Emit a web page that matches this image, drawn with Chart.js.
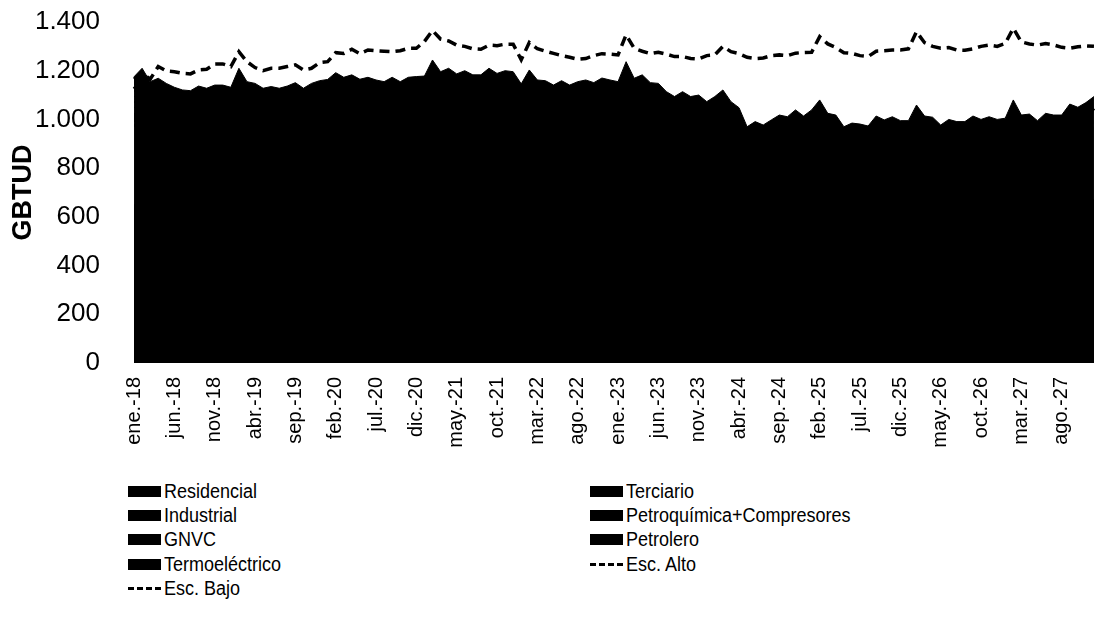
<!DOCTYPE html>
<html lang="es">
<head>
<meta charset="UTF-8">
<title>Demanda de gas natural por sector - GBTUD</title>
<script src="https://cdn.jsdelivr.net/npm/chart.js"></script>
<style>
    body {
        margin: 0;
        background: #fff;
        font-family: 'Liberation Sans', Arial, sans-serif;
    }
    .wrap {
        position: relative;
        width: 1101px;
        height: 625px;
        overflow: hidden;
    }
    #demanda {
        position: absolute;
        left: 0;
        top: 0;
    }
    /* legend below the plot, two columns */
    .legend {
        position: absolute;
        left: 128px;
        top: 479px;
        display: grid;
        grid-template-columns: 462px 400px;
        grid-auto-rows: 24.3px;
        font-family: 'Liberation Sans', Arial, sans-serif;
        font-size: 20px;
        color: #000;
    }
    .legend .item {
        display: flex;
        align-items: center;
        white-space: nowrap;
    }
    .legend .txt {
        display: inline-block;
        transform: scaleX(0.9);
        transform-origin: left center;
    }
    .legend .sw {
        width: 33px;
        height: 11px;
        background: #000;
        margin-right: 3px;
    }
    .legend .sw.dash {
        height: 3px;
        background: repeating-linear-gradient(to right, #000 0 6px, transparent 6px 9px);
    }
</style>
</head>
<body>
<div class="wrap">
    <canvas id="demanda" width="1101" height="460"></canvas>
    <div class="legend" id="legend"></div>
</div>

<script>
    // categories
    const years = ['18', '19', '20', '21', '22', '23', '24', '25', '26', '27'];
    const monthAbbr = ['ene.', 'feb.', 'mar.', 'abr.', 'may.', 'jun.', 'jul.', 'ago.', 'sep.', 'oct.', 'nov.', 'dic.'];
    const yTicks = [0, 200, 400, 600, 800, 1000, 1200, 1400];

    // GBTUD by sector, ene.-18 .. dic.-27 (one row per year)
    const residencial = [
        170, 170, 170, 170, 170, 170, 170, 170, 170, 170, 170, 170,
        172, 172, 172, 172, 172, 172, 172, 172, 172, 172, 172, 172,
        175, 175, 175, 175, 175, 175, 175, 175, 175, 175, 175, 175,
        178, 178, 178, 178, 178, 178, 178, 178, 178, 178, 178, 178,
        180, 180, 180, 180, 180, 180, 180, 180, 180, 180, 180, 180,
        183, 183, 183, 183, 183, 183, 183, 183, 183, 183, 183, 183,
        186, 186, 186, 186, 186, 186, 186, 186, 186, 186, 186, 186,
        189, 189, 189, 189, 189, 189, 189, 189, 189, 189, 189, 189,
        192, 192, 192, 192, 192, 192, 192, 192, 192, 192, 192, 192,
        195, 195, 195, 195, 195, 195, 195, 195, 195, 195, 195, 195
    ];
    const terciario = [
        35, 35, 35, 35, 35, 35, 35, 35, 35, 35, 35, 35,
        36, 36, 36, 36, 36, 36, 36, 36, 36, 36, 36, 36,
        36, 36, 36, 36, 36, 36, 36, 36, 36, 36, 36, 36,
        37, 37, 37, 37, 37, 37, 37, 37, 37, 37, 37, 37,
        38, 38, 38, 38, 38, 38, 38, 38, 38, 38, 38, 38,
        38, 38, 38, 38, 38, 38, 38, 38, 38, 38, 38, 38,
        39, 39, 39, 39, 39, 39, 39, 39, 39, 39, 39, 39,
        40, 40, 40, 40, 40, 40, 40, 40, 40, 40, 40, 40,
        40, 40, 40, 40, 40, 40, 40, 40, 40, 40, 40, 40,
        41, 41, 41, 41, 41, 41, 41, 41, 41, 41, 41, 41
    ];
    const industrial = [
        240, 240, 240, 240, 240, 240, 240, 240, 240, 240, 240, 240,
        242, 242, 242, 242, 242, 242, 242, 242, 242, 242, 242, 242,
        245, 245, 245, 245, 245, 245, 245, 245, 245, 245, 245, 245,
        248, 248, 248, 248, 248, 248, 248, 248, 248, 248, 248, 248,
        250, 250, 250, 250, 250, 250, 250, 250, 250, 250, 250, 250,
        253, 253, 253, 253, 253, 253, 253, 253, 253, 253, 253, 253,
        255, 255, 255, 255, 255, 255, 255, 255, 255, 255, 255, 255,
        258, 258, 258, 258, 258, 258, 258, 258, 258, 258, 258, 258,
        260, 260, 260, 260, 260, 260, 260, 260, 260, 260, 260, 260,
        262, 262, 262, 262, 262, 262, 262, 262, 262, 262, 262, 262
    ];
    const petroquimica = [
        20, 20, 20, 20, 20, 20, 20, 20, 20, 20, 20, 20,
        20, 20, 20, 20, 20, 20, 20, 20, 20, 20, 20, 20,
        22, 22, 22, 22, 22, 22, 22, 22, 22, 22, 22, 22,
        22, 22, 22, 22, 22, 22, 22, 22, 22, 22, 22, 22,
        24, 24, 24, 24, 24, 24, 24, 24, 24, 24, 24, 24,
        24, 24, 24, 24, 24, 24, 24, 24, 24, 24, 24, 24,
        25, 25, 25, 25, 25, 25, 25, 25, 25, 25, 25, 25,
        25, 25, 25, 25, 25, 25, 25, 25, 25, 25, 25, 25,
        26, 26, 26, 26, 26, 26, 26, 26, 26, 26, 26, 26,
        26, 26, 26, 26, 26, 26, 26, 26, 26, 26, 26, 26
    ];
    const gnvc = [
        15, 15, 15, 15, 15, 15, 15, 15, 15, 15, 15, 15,
        16, 16, 16, 16, 16, 16, 16, 16, 16, 16, 16, 16,
        17, 17, 17, 17, 17, 17, 17, 17, 17, 17, 17, 17,
        18, 18, 18, 18, 18, 18, 18, 18, 18, 18, 18, 18,
        19, 19, 19, 19, 19, 19, 19, 19, 19, 19, 19, 19,
        20, 20, 20, 20, 20, 20, 20, 20, 20, 20, 20, 20,
        21, 21, 21, 21, 21, 21, 21, 21, 21, 21, 21, 21,
        22, 22, 22, 22, 22, 22, 22, 22, 22, 22, 22, 22,
        23, 23, 23, 23, 23, 23, 23, 23, 23, 23, 23, 23,
        24, 24, 24, 24, 24, 24, 24, 24, 24, 24, 24, 24
    ];
    const petrolero = [
        170, 170, 170, 170, 170, 170, 170, 170, 170, 170, 170, 170,
        164, 164, 164, 164, 164, 164, 164, 164, 164, 164, 164, 164,
        165, 165, 165, 165, 165, 165, 165, 165, 165, 165, 165, 165,
        157, 157, 157, 157, 157, 157, 157, 157, 157, 157, 157, 157,
        159, 159, 159, 159, 159, 159, 159, 159, 159, 159, 159, 159,
        152, 152, 152, 152, 152, 152, 152, 152, 152, 152, 152, 152,
        144, 144, 144, 144, 144, 144, 144, 144, 144, 144, 144, 144,
        136, 136, 136, 136, 136, 136, 136, 136, 136, 136, 136, 136,
        129, 129, 129, 129, 129, 129, 129, 129, 129, 129, 129, 129,
        122, 122, 122, 122, 122, 122, 122, 122, 122, 122, 122, 122
    ];
    const termoelectrico = [
        525, 560, 505, 519, 498, 482, 471, 468, 487, 478, 491, 491,
        482, 560, 505, 498, 478, 485, 478, 487, 501, 478, 498, 509,
        504, 532, 513, 523, 505, 513, 502, 495, 513, 495, 513, 516,
        518, 584, 536, 550, 527, 540, 523, 523, 550, 529, 540, 536,
        476, 533, 492, 489, 471, 489, 471, 485, 492, 481, 500, 492,
        485, 567, 499, 513, 481, 478, 444, 424, 444, 424, 430, 403,
        424, 451, 403, 378, 300, 321, 307, 328, 348, 341, 369, 344,
        369, 410, 355, 348, 300, 315, 311, 303, 344, 328, 341, 325,
        325, 389, 344, 339, 307, 330, 321, 321, 344, 330, 341, 330,
        335, 410, 348, 352, 325, 355, 348, 348, 393, 380, 399, 424
    ];
    const escAlto = [
        1165, 1190, 1165, 1217, 1199, 1196, 1189, 1187, 1203, 1206, 1227, 1228,
        1217, 1278, 1237, 1213, 1200, 1210, 1210, 1217, 1224, 1203, 1210, 1233,
        1237, 1274, 1271, 1288, 1270, 1285, 1282, 1280, 1278, 1282, 1292, 1292,
        1320, 1365, 1330, 1322, 1305, 1300, 1290, 1288, 1305, 1303, 1309, 1309,
        1245, 1316, 1290, 1280, 1271, 1262, 1255, 1247, 1250, 1262, 1270, 1268,
        1265, 1347, 1292, 1280, 1270, 1276, 1268, 1258, 1258, 1250, 1248, 1262,
        1265, 1300, 1278, 1270, 1255, 1250, 1252, 1262, 1265, 1262, 1272, 1275,
        1276, 1340, 1310, 1295, 1274, 1271, 1262, 1258, 1280, 1282, 1285, 1285,
        1290, 1360, 1315, 1300, 1292, 1295, 1285, 1284, 1290, 1300, 1305, 1300,
        1312, 1374, 1318, 1310, 1305, 1312, 1306, 1296, 1292, 1298, 1302, 1300
    ];
    const escBajo = [
        1125, 1160, 1105, 1120, 1100, 1080, 1070, 1070, 1085, 1080, 1090, 1090,
        1080, 1160, 1105, 1100, 1080, 1085, 1080, 1085, 1100, 1080, 1100, 1110,
        1115, 1140, 1125, 1135, 1115, 1125, 1110, 1105, 1125, 1105, 1125, 1125,
        1130, 1195, 1145, 1160, 1135, 1150, 1135, 1135, 1160, 1140, 1150, 1145,
        1095, 1155, 1110, 1110, 1090, 1110, 1090, 1105, 1110, 1100, 1120, 1110,
        1105, 1185, 1120, 1135, 1100, 1100, 1065, 1045, 1065, 1045, 1050, 1025,
        1045, 1070, 1025, 1000, 920, 940, 925, 950, 970, 960, 990, 965,
        990, 1030, 975, 970, 920, 935, 930, 925, 965, 950, 960, 945,
        945, 1010, 965, 960, 925, 950, 940, 940, 965, 950, 960, 950,
        955, 1030, 970, 970, 945, 975, 970, 970, 1015, 1000, 1020, 1045
    ];

    // month labels like "ene.-18"
    const meses = [];
    years.forEach(y => monthAbbr.forEach(m => meses.push(m + '-' + y)));

    const tickFont = "'Liberation Sans', Arial, sans-serif";

    function area(label, data) {
        return {
            label: label,
            data: data,
            backgroundColor: '#000',
            borderColor: '#000',
            borderWidth: 1,
            pointRadius: 0,
            fill: 'origin',   // each stacked layer filled down to 0, no seams
            stack: 'demanda'
        };
    }
    function escenario(label, data) {
        return {
            label: label,
            data: data,
            borderColor: '#000',
            borderWidth: 3.5,
            borderDash: [10, 6],
            pointRadius: 0,
            fill: false,
            stack: label,
            dashed: true
        };
    }

    const datasets = [
        area('Residencial', residencial),
        area('Terciario', terciario),
        area('Industrial', industrial),
        area('Petroquímica+Compresores', petroquimica),
        area('GNVC', gnvc),
        area('Petrolero', petrolero),
        area('Termoeléctrico', termoelectrico),
        escenario('Esc. Alto', escAlto),
        escenario('Esc. Bajo', escBajo)
    ];

    function miles(v) {
        if (v < 1000) return String(v);
        return Math.floor(v / 1000) + '.' + String(v % 1000).padStart(3, '0');
    }

    const ctx = document.getElementById('demanda').getContext('2d');
    new Chart(ctx, {
        type: 'line',
        data: { labels: meses, datasets: datasets },
        options: {
            responsive: false,
            animation: false,
            layout: { padding: { top: 22, right: 3, left: 0, bottom: 0 } },
            elements: { line: { tension: 0 } },
            plugins: {
                legend: { display: false },
                tooltip: { enabled: false }
            },
            scales: {
                x: {
                    offset: true,
                    grid: { display: false, drawTicks: true, tickLength: 14 },
                    border: { display: false },
                    ticks: {
                        autoSkip: false,
                        minRotation: 90,
                        maxRotation: 90,
                        padding: 0,
                        color: '#000',
                        font: { family: tickFont, size: 20 },
                        callback: (v, i) => (i % 5 === 0 ? meses[i] : '')
                    },
                    afterFit: s => {
                        s.height = 97;
                        s.paddingLeft = 0;
                        s.paddingRight = 0;
                    }
                },
                y: {
                    stacked: true,
                    min: 0,
                    max: 1400,
                    afterBuildTicks: s => { s.ticks = yTicks.map(v => ({ value: v })); },
                    grid: { display: false, drawTicks: true, tickLength: 30 },
                    border: { display: false },
                    ticks: {
                        padding: 0,
                        color: '#000',
                        font: { family: tickFont, size: 26 },
                        callback: v => miles(v)
                    },
                    title: {
                        display: true,
                        text: 'GBTUD',
                        color: '#000',
                        font: { family: tickFont, size: 27, weight: 'bold' },
                        padding: { top: 7, bottom: 0 }
                    },
                    afterFit: s => {
                        s.width = 130;
                        s.paddingTop = 0;
                        s.paddingBottom = 0;
                    }
                }
            }
        }
    });

    // legend in two columns, same order as the series
    const legend = document.getElementById('legend');
    datasets.forEach(ds => {
        const item = document.createElement('div');
        item.className = 'item';
        const sw = document.createElement('span');
        sw.className = ds.dashed ? 'sw dash' : 'sw';
        const txt = document.createElement('span');
        txt.className = 'txt';
        txt.textContent = ds.label;
        item.appendChild(sw);
        item.appendChild(txt);
        legend.appendChild(item);
    });
</script>
</body>
</html>
